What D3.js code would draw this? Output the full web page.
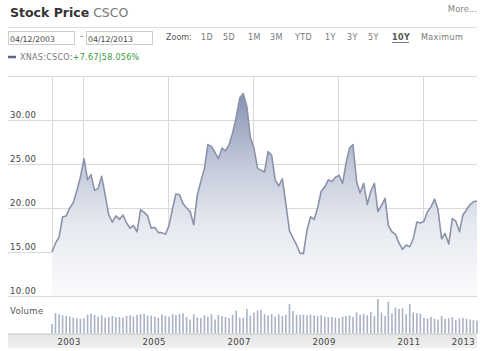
<!DOCTYPE html>
<html>
<head>
<meta charset="utf-8">
<script src="https://cdn.jsdelivr.net/npm/d3@7"></script>
<style>
  html, body { margin: 0; padding: 0; background: #fff; }
  svg { display: block; }
  text { font-family: "DejaVu Sans", Verdana, sans-serif; }
</style>
</head>
<body>
<svg id="chart" width="480" height="351"></svg>
<script>
// ---- data ----
const startDate = "2003-04-12";
const endDate = "2013-04-12";
const symbol = "CSCO";
const legendLabel = "XNAS:CSCO:";
const changeAbs = "+7.67";
const changePct = "58.056%";
const zoomOptions = ["1D", "5D", "1M", "3M", "YTD", "1Y", "3Y", "5Y", "10Y", "Maximum"];
const activeZoom = "10Y";
const yTicks = [10, 15, 20, 25, 30, 35];
const gridYears = [2004, 2006, 2008, 2010, 2012];
const yearLabels = ["2003", "2005", "2007", "2009", "2011", "2013"];

// monthly closing prices, Apr 2003 .. Apr 2013
const prices = [
  15.0, 16.0, 16.7, 19.0, 19.1, 20.0, 20.6, 22.0, 23.5, 25.6, 23.2, 23.8,
  22.0, 22.2, 23.6, 21.5, 19.2, 18.4, 19.1, 18.7, 19.2, 18.3, 17.7, 18.0,
  17.3, 19.8, 19.5, 19.1, 17.7, 17.8, 17.2, 17.2, 17.0, 18.0, 20.0, 21.6,
  21.5, 20.5, 20.0, 19.6, 18.1, 21.5, 23.0, 24.5, 27.2, 27.0, 26.3, 25.6,
  26.8, 26.5, 27.2, 28.5, 30.3, 32.5, 33.0, 31.5, 28.0, 26.8, 24.5, 24.3,
  24.1, 26.4, 26.0, 23.2, 22.5, 23.3, 20.5, 17.4, 16.6, 15.8, 14.85, 14.8,
  17.5, 19.0, 18.7, 20.0, 21.9, 22.4, 23.2, 23.0, 23.5, 23.7, 22.8, 25.0,
  26.8, 27.2, 23.0, 21.7, 22.8, 20.4, 21.9, 22.8, 19.6, 20.3, 21.1, 18.0,
  17.3, 17.0, 16.0, 15.3, 15.8, 15.6, 16.5, 18.4, 18.3, 18.5, 19.6, 20.1,
  21.0, 19.8, 16.5, 17.1, 15.9, 18.8, 18.5, 17.3, 19.2, 19.8, 20.4, 20.7,
  20.8
];
// monthly volume (relative units)
const volumes = [
  27, 58, 55, 52, 50, 48, 45, 43, 42, 44, 54, 57,
  53, 48, 52, 45, 47, 50, 47, 47, 45, 50, 52, 49,
  53, 55, 56, 51, 51, 48, 45, 54, 50, 48, 55, 53,
  56, 58, 47, 40, 55, 46, 44, 52, 48, 55, 40, 53,
  50, 47, 44, 54, 65, 45, 45, 70, 51, 60, 66, 68,
  55, 52, 56, 48, 55, 50, 53, 84, 64, 53, 53, 54,
  52, 54, 52, 50, 52, 48, 47, 47, 45, 44, 48, 50,
  52, 47, 60, 54, 56, 52, 62, 50, 98, 60, 50, 91,
  58, 74, 70, 72, 55, 84, 60, 58, 56, 45, 43, 48,
  42, 40, 50, 42, 44, 47, 38, 43, 45, 42, 40, 38,
  37
];

// ---- build ----
const parse = d3.timeParse("%Y-%m-%d");
const fmtInput = d3.timeFormat("%m/%d/%Y");
const t0 = parse(startDate), t1 = parse(endDate);
const series = prices.map((p, i) => ({ date: d3.timeMonth.offset(t0, i), price: p, vol: volumes[i] }));

const svg = d3.select("#chart");
const plotL = 52, plotR = 477, plotT = 76, plotB = 296;
const volB = 333.5;

const x = d3.scaleTime().domain([t0, t1]).range([plotL, plotR]);
const y = d3.scaleLinear().domain([10, 35]).range([plotB, plotT]);
const yv = d3.scaleLinear().domain([0, 100]).range([volB, volB - 35]);

// header
svg.append("text").attr("x", 10).attr("y", 16.5)
  .attr("font-family", "'Liberation Sans', Arial, sans-serif")
  .attr("font-size", 12.5).attr("font-weight", "bold").attr("fill", "#333")
  .text("Stock Price")
  .append("tspan").attr("font-weight", "normal").attr("fill", "#777").attr("dx", 4).text(symbol);
svg.append("text").attr("x", 477).attr("y", 12).attr("text-anchor", "end")
  .attr("font-size", 8.5).attr("fill", "#888").text("More...");
svg.append("line").attr("x1", 8).attr("x2", 477).attr("y1", 27.5).attr("y2", 27.5)
  .attr("stroke", "#ddd").attr("stroke-width", 1);

// date inputs
const inputs = [{ x: 8.5, t: t0 }, { x: 86.5, t: t1 }];
inputs.forEach(d => {
  svg.append("rect").attr("x", d.x).attr("y", 31.5).attr("width", 66).attr("height", 13)
    .attr("fill", "#fff").attr("stroke", "#ccc");
  svg.append("text").attr("x", d.x + 1.5).attr("y", 41.5).attr("font-size", 7.8).attr("fill", "#444")
    .text(fmtInput(d.t));
});
svg.append("text").attr("x", 80).attr("y", 39).attr("font-size", 8).attr("fill", "#666").text("-");

// zoom options
const zoomPos = [201, 223, 248, 270, 295, 325, 347, 368, 392, 421];
svg.append("text").attr("x", 166).attr("y", 40).attr("font-size", 8).attr("fill", "#555").text("Zoom:");
zoomOptions.forEach((z, i) => {
  svg.append("text").attr("x", zoomPos[i]).attr("y", 40).attr("font-size", 8)
    .attr("fill", z === activeZoom ? "#555" : "#777")
    .attr("font-weight", z === activeZoom ? "bold" : "normal")
    .attr("letter-spacing", 0.4)
    .text(z);
  if (z === activeZoom) {
    svg.append("line").attr("x1", zoomPos[i]).attr("x2", zoomPos[i] + 17).attr("y1", 42.5).attr("y2", 42.5)
      .attr("stroke", "#777").attr("stroke-width", 1);
  }
});

// legend
svg.append("line").attr("x1", 8).attr("x2", 16).attr("y1", 57).attr("y2", 57)
  .attr("stroke", "#5b6788").attr("stroke-width", 2.5);
const lg = svg.append("text").attr("x", 20).attr("y", 60).attr("font-size", 8).attr("fill", "#777")
  .attr("letter-spacing", 0.3);
lg.append("tspan").text(legendLabel);
lg.append("tspan").attr("fill", "#3a9a3a").text(changeAbs);
lg.append("tspan").attr("fill", "#3a9a3a").text("|");
lg.append("tspan").attr("fill", "#3a9a3a").text(changePct);

// gridlines
svg.append("g").selectAll("line").data(yTicks).join("line")
  .attr("x1", 8).attr("x2", plotR)
  .attr("y1", d => Math.round(y(d)) + 0.5).attr("y2", d => Math.round(y(d)) + 0.5)
  .attr("stroke", "#d9d9d9").attr("stroke-width", 1);
const vgrid = [t0].concat(gridYears.map(yr => new Date(yr, 0, 1)));
svg.append("g").selectAll("line").data(vgrid).join("line")
  .attr("x1", d => Math.round(x(d)) + 0.5).attr("x2", d => Math.round(x(d)) + 0.5)
  .attr("y1", plotT).attr("y2", plotB)
  .attr("stroke", "#d9d9d9").attr("stroke-width", 1);

// y labels
svg.append("g").selectAll("text").data(yTicks.filter(d => d < 35)).join("text")
  .attr("x", 10).attr("y", d => y(d) - 2.5)
  .attr("font-size", 8.5).attr("fill", "#444").attr("letter-spacing", 0.4)
  .text(d => d3.format(".2f")(d));

// area gradient
const defs = svg.append("defs");
const grad = defs.append("linearGradient").attr("id", "areaGrad")
  .attr("gradientUnits", "userSpaceOnUse").attr("x1", 0).attr("x2", 0)
  .attr("y1", y(33)).attr("y2", plotB);
grad.append("stop").attr("offset", 0).attr("stop-color", "#8592b2");
grad.append("stop").attr("offset", 0.35).attr("stop-color", "#c3c9da");
grad.append("stop").attr("offset", 0.65).attr("stop-color", "#e6e9f0");
grad.append("stop").attr("offset", 1).attr("stop-color", "#fafbfc");

const area = d3.area().x(d => x(d.date)).y0(plotB).y1(d => y(d.price));
const line = d3.line().x(d => x(d.date)).y(d => y(d.price));
svg.append("path").datum(series).attr("d", area).attr("fill", "url(#areaGrad)");
svg.append("path").datum(series).attr("d", line).attr("fill", "none")
  .attr("stroke", "#8b93aa").attr("stroke-width", 1.6).attr("stroke-linejoin", "round");

// volume
svg.append("text").attr("x", 10).attr("y", 314).attr("font-size", 8.5).attr("fill", "#555")
  .attr("letter-spacing", 0.3).text("Volume");
svg.append("g").selectAll("rect").data(series).join("rect")
  .attr("x", d => x(d.date) - 0.8).attr("width", 1.6)
  .attr("y", d => yv(d.vol)).attr("height", d => volB - yv(d.vol))
  .attr("fill", "#a9b1c6");

// x-axis band
const bandGrad = defs.append("linearGradient").attr("id", "bandGrad")
  .attr("x1", 0).attr("x2", 0).attr("y1", 0).attr("y2", 1);
bandGrad.append("stop").attr("offset", 0).attr("stop-color", "#e4e4e4");
bandGrad.append("stop").attr("offset", 1).attr("stop-color", "#f1f1f1");
svg.append("rect").attr("x", 8).attr("y", volB).attr("width", plotR - 8).attr("height", 15)
  .attr("fill", "url(#bandGrad)");
svg.append("line").attr("x1", 8).attr("x2", plotR).attr("y1", volB + 0.5).attr("y2", volB + 0.5)
  .attr("stroke", "#ccc");
const labelAnchors = gridYears.map(yr => new Date(yr, 0, 1)).concat([t1]);
svg.append("g").selectAll("text").data(yearLabels).join("text")
  .attr("x", (d, i) => x(labelAnchors[i]) - 2).attr("y", 345)
  .attr("text-anchor", "end").attr("font-size", 8.5).attr("fill", "#444").attr("letter-spacing", 0.4)
  .text(d => d);
</script>
</body>
</html>
